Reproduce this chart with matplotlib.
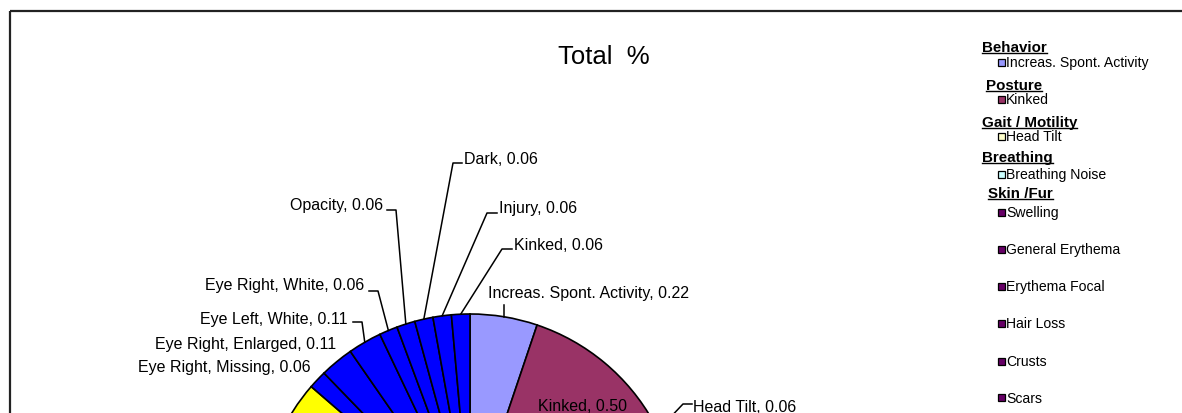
import numpy as np
import matplotlib
matplotlib.use("Agg")
import matplotlib.pyplot as plt
from matplotlib.patches import Rectangle

plt.rcParams["font.family"] = ["Liberation Sans", "DejaVu Sans"]

# ─────────────────────────────────────────────
# DATA  (pie slices, clockwise from 12 o'clock)
# ─────────────────────────────────────────────
slice_names = [
    "Increas. Spont. Activity", "Kinked", "Head Tilt", "Breathing Noise",
    "Swelling", "General Erythema", "Erythema Focal", "Hair Loss", "Crusts", "Scars",
    "Other",
    "Eye Right, Missing", "Eye Right, Enlarged", "Eye Left, White", "Eye Right, White",
    "Opacity", "Dark", "Injury", "Kinked",
]
slice_values = [
    0.22, 0.50, 0.06, 0.17,
    0.28, 0.39, 0.33, 0.56, 0.22, 0.17,
    0.77,
    0.06, 0.11, 0.11, 0.06,
    0.06, 0.06, 0.06, 0.06,
]
slice_colors = [
    "#9999FF", "#993366", "#FFFFCC", "#CCFFFF",
    "#660066", "#660066", "#660066", "#660066", "#660066", "#660066",
    "#FFFF00",
    "#0000FF", "#0000FF", "#0000FF", "#0000FF",
    "#0000FF", "#0000FF", "#0000FF", "#0000FF",
]

legend_groups = ["Behavior", "Posture", "Gait / Motility", "Breathing", "Skin /Fur"]
legend_items = [
    ["Increas. Spont. Activity"],
    ["Kinked"],
    ["Head Tilt"],
    ["Breathing Noise"],
    ["Swelling", "General Erythema", "Erythema Focal", "Hair Loss", "Crusts", "Scars"],
]

TITLE = "Total  %"

# ─────────────────────────────────────────────
# LAYOUT (pixels, origin top-left)
# ─────────────────────────────────────────────
W, H = 1182, 414
CX, CY, R = 470, 525, 210

# slice index -> label placement
label_layout = {
    0:  dict(xy=(488, 294), ha="left", vertical_to=306),
    1:  dict(xy=(583, 407), ha="center"),
    2:  dict(xy=(693, 408), ha="left", elbow=(683, 405), hend=692),
    11: dict(xy=(311, 368), ha="right"),
    12: dict(xy=(336, 345), ha="right"),
    13: dict(xy=(348, 320), ha="right", elbow=(362, 323), hend=353),
    14: dict(xy=(364, 286), ha="right", elbow=(378, 292), hend=369),
    15: dict(xy=(383, 206), ha="right", elbow=(396, 211), hend=387),
    16: dict(xy=(464, 160), ha="left", elbow=(453, 164), hend=462),
    17: dict(xy=(499, 209), ha="left", elbow=(487, 214), hend=497),
    18: dict(xy=(514, 246), ha="left", elbow=(502, 250), hend=512),
}

header_pos = [(982, 52.5), (986, 90.5), (982, 127.5), (982, 162.5), (988, 198.5)]
item_ys = [[63], [100], [137], [175], [213, 250, 287, 324, 362, 399]]

fig = plt.figure(figsize=(W / 100, H / 100), dpi=100)
fig.patch.set_facecolor("white")

# pie axes: square box in pixels centred on the pie centre
S = 450
ax = fig.add_axes([(CX - S) / W, (H - CY - S) / H, 2 * S / W, 2 * S / H])
wedges, _ = ax.pie(
    slice_values, colors=slice_colors, startangle=90, counterclock=False,
    radius=1, wedgeprops=dict(edgecolor="black", linewidth=1.2),
)
ax.set_xlim(-S / R, S / R)
ax.set_ylim(-S / R, S / R)
ax.set_aspect("equal")
ax.set_axis_off()

# overlay axes in pixel coordinates
ov = fig.add_axes([0, 0, 1, 1])
ov.set_xlim(0, W)
ov.set_ylim(H, 0)
ov.set_axis_off()

# chart frame (only top and left edges are inside the crop)
ov.plot([10, W + 5], [11.5, 11.5], color="#222222", lw=1.6, solid_capstyle="butt")
ov.plot([10, 10], [11.5, H + 5], color="#222222", lw=1.6, solid_capstyle="butt")

ov.text(604, 57, TITLE, fontsize=18.5, ha="center", va="center")

# slice labels with leader lines
for i, lay in label_layout.items():
    w = wedges[i]
    mid = np.deg2rad((w.theta1 + w.theta2) / 2)
    ex, ey = CX + R * np.cos(mid), CY - R * np.sin(mid)
    tx, ty = lay["xy"]
    ov.text(tx, ty, f"{slice_names[i]}, {slice_values[i]:.2f}",
            fontsize=11.5, ha=lay["ha"], va="center")
    if "elbow" in lay:
        bx, by = lay["elbow"]
        ov.plot([ex, bx, lay["hend"]], [ey, by, by], color="black", lw=1.1)
    elif "vertical_to" in lay:
        ov.plot([ex, ex], [ey, lay["vertical_to"]], color="black", lw=1.1)

# legend
color_of = {}
for n, c in zip(slice_names, slice_colors):
    color_of.setdefault(n, c)

headers = []
for g, (hx, hy), items, ys in zip(legend_groups, header_pos, legend_items, item_ys):
    t = ov.text(hx, hy, g, fontsize=10.9, fontweight="bold", ha="left", va="baseline")
    headers.append((t, hy))
    for name, iy in zip(items, ys):
        ov.add_patch(Rectangle((997.5, iy - 3.5), 7, 7, facecolor=color_of[name],
                               edgecolor="black", lw=0.9))
        ov.text(1006, iy, name, fontsize=10.1, ha="left", va="center")

fig.canvas.draw()
renderer = fig.canvas.get_renderer()
inv = ov.transData.inverted()
for t, hy in headers:
    bb = t.get_window_extent(renderer)
    (x0, _), (x1, _) = inv.transform([(bb.x0, bb.y0), (bb.x1, bb.y1)])
    ov.plot([x0, x1], [hy + 1.8, hy + 1.8], color="black", lw=1.0)

fig.savefig("out.png", dpi=100)
